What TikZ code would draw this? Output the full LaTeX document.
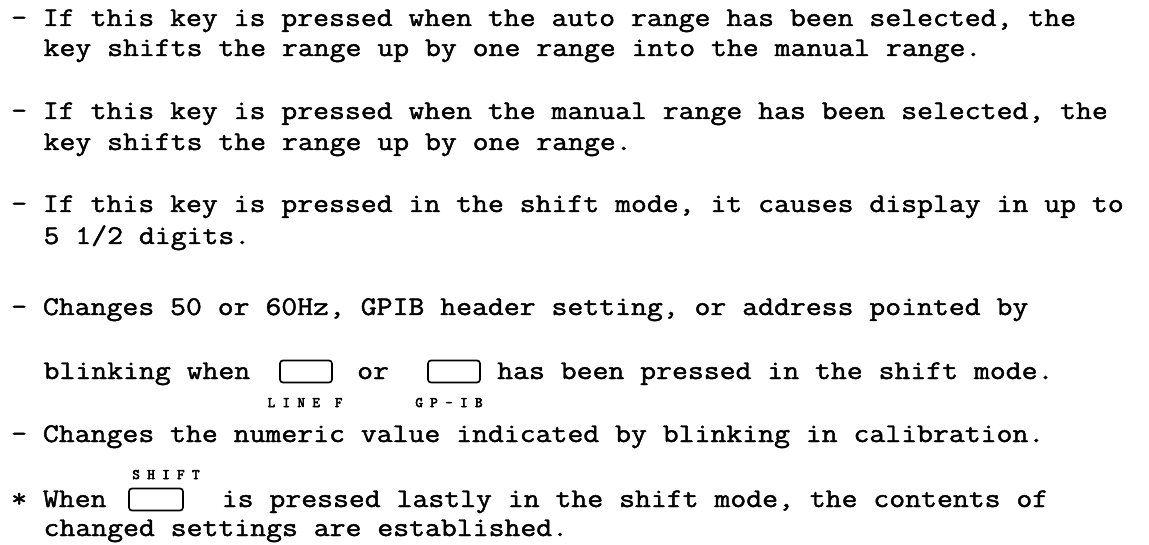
\documentclass[tikz,border=0pt]{standalone}
\usepackage{fontspec}
\newfontfamily\typew[FakeStretch=1.143,FakeBold=1.6]{Latin Modern Mono}
\newfontfamily\labfont[FakeBold=4]{Latin Modern Mono}
\frenchspacing
\begin{document}
\begin{tikzpicture}[x=1pt,y=-1pt,
  txt/.style={anchor=base west, inner sep=0pt, font=\typew\fontsize{27}{30}\selectfont},
  keylab/.style={anchor=base, inner sep=0pt, font=\labfont\fontsize{14.5}{16}\selectfont},
  keybox/.style={draw, line width=1.7pt, rounded corners=3pt, minimum height=22pt, minimum width=52pt, inner sep=0pt}]
\useasboundingbox (0,0) rectangle (1149,545);
\node[txt] (l1) at (11,26) {- If this key is pressed when the auto range has been selected, the};
\node[txt] (l2) at (43.4,56) {key shifts the range up by one range into the manual range.};
\node[txt] (l3) at (11,119) {- If this key is pressed when the manual range has been selected, the};
\node[txt] (l4) at (43.4,150) {key shifts the range up by one range.};
\node[txt] (l5) at (11,212) {- If this key is pressed in the shift mode, it causes display in up to};
\node[txt] (l6) at (43.4,244) {5 1/2 digits.};
\node[txt] (l7) at (11,315) {- Changes 50 or 60Hz, GPIB header setting, or address pointed by};
\node[txt] (l8a) at (43.4,379) {blinking when};
\node[keybox] (kA) at (306,371.5) {};
\node[txt] (l8b) at (357,379) {or};
\node[keybox] (kB) at (454,371.5) {};
\node[txt] (l8c) at (497,379) {has been pressed in the shift mode.};
\node[keylab] (labA) at (305,407) {L~I~N~E~~F};
\node[keylab] (labB) at (449,407) {G~P~-~I~B};
\node[txt] (l9) at (11,442) {- Changes the numeric value indicated by blinking in calibration.};
\node[txt] (l10a) at (11,507) {* When};
\node[keybox, minimum width=54pt] (kC) at (156,499.5) {};
\node[keylab] (labC) at (166,479) {S~H~I~F~T};
\node[txt] (l10b) at (221.6,507) {is pressed lastly in the shift mode, the contents of};
\node[txt] (l11) at (43.4,536) {changed settings are established.};
\end{tikzpicture}
\end{document}
